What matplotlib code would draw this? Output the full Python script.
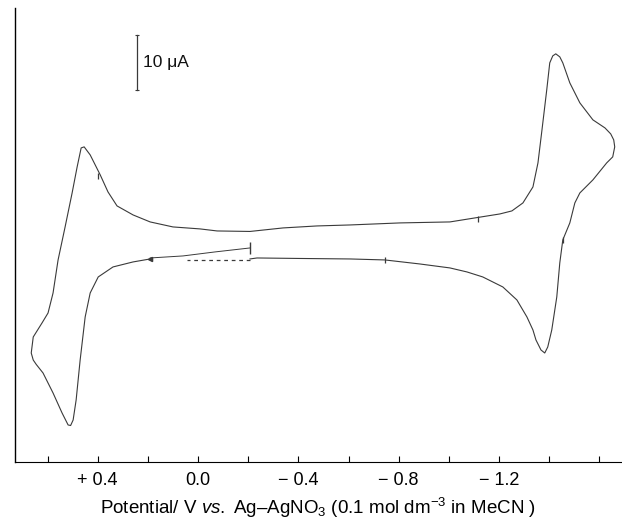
import matplotlib
matplotlib.use("Agg")

import numpy as np
import matplotlib.pyplot as plt

# --- Data (potential / V, current / uA) ---
# closed loop, starting at the lower branch near +0.19 V and running anticlockwise
loop_v = [0.191, 0.259, 0.339, 0.398, 0.430, 0.450, 0.470, 0.486, 0.498, 0.508, 0.518,
          0.542, 0.578, 0.618, 0.645, 0.657, 0.665, 0.657, 0.622, 0.598, 0.578, 0.558,
          0.530, 0.502, 0.482, 0.466, 0.454, 0.430, 0.390, 0.359, 0.323, 0.259,
          0.191, 0.100, -0.008, -0.076, -0.207, -0.339, -0.474, -0.606, -0.805, -1.004,
          -1.104, -1.203, -1.251, -1.295, -1.335, -1.355, -1.371, -1.390, -1.402, -1.414,
          -1.426, -1.442, -1.454, -1.482, -1.522, -1.574, -1.622, -1.645, -1.657, -1.661,
          -1.653, -1.629, -1.574, -1.522, -1.502, -1.482, -1.454, -1.442, -1.430, -1.410,
          -1.394, -1.382, -1.367, -1.347, -1.335, -1.311, -1.271, -1.215, -1.135, -1.072,
          -1.004, -0.884, -0.745, -0.606, -0.406, -0.235, -0.207]
loop_i = [-0.73, -1.27, -2.18, -4.0, -6.91, -11.27, -19.09, -26.36, -30.0, -31.0, -30.9,
          -28.73, -25.09, -21.45, -19.9, -19.1, -17.82, -14.91, -12.36, -10.55, -6.91, -0.91,
          5.09, 11.27, 16.0, 19.45, 19.64, 18.18, 14.55, 11.45, 8.91, 7.27,
          6.0, 5.09, 4.73, 4.36, 4.27, 4.91, 5.27, 5.45, 5.82, 6.0,
          6.73, 7.45, 8.0, 9.45, 12.36, 16.73, 22.73, 30.0, 34.91, 36.18,
          36.55, 36.0, 34.91, 31.27, 27.64, 24.55, 23.09, 22.0, 20.91, 19.64,
          17.82, 16.73, 13.64, 11.27, 9.45, 5.82, 2.73, -1.45, -7.64, -13.64,
          -16.73, -17.82, -17.27, -15.45, -13.64, -11.27, -8.18, -5.82, -4.0, -3.09,
          -2.36, -1.64, -0.91, -0.73, -0.64, -0.55, -0.73]

# start of the scan (thin lead-in) and the dashed closing segment
start_v = [-0.207, -0.068, 0.060, 0.191]
start_i = [1.27, 0.55, -0.18, -0.55]
close_v = [-0.207, -0.088, 0.044]
close_i = [-0.91, -0.91, -0.91]

major_ticks = [0.4, 0.0, -0.4, -0.8, -1.2]
tick_labels = ["+ 0.4", "0.0", "\u2212 0.4", "\u2212 0.8", "\u2212 1.2"]
minor_ticks = [0.6, 0.2, -0.2, -0.6, -1.0, -1.4, -1.6]

# small scan marks on the trace
mark_v = [0.398, -0.745, -1.454, -1.114]
mark_i = [14.4, -0.91, 2.73, 6.6]

SCALE_V = 0.243      # position of the 10 uA bar
SCALE_I = (30.0, 40.0)

# --- Style ---
plt.rcParams["font.family"] = ["Liberation Sans", "DejaVu Sans"]
plt.rcParams["mathtext.fontset"] = "custom"
plt.rcParams["mathtext.rm"] = "Liberation Sans"
plt.rcParams["mathtext.it"] = "Liberation Sans:italic"

LINE = "#3a3a3a"

fig = plt.figure(figsize=(6.22, 5.26), dpi=100)
ax = fig.add_axes([0.024, 0.122, 0.976, 0.863])

ax.plot(loop_v, loop_i, color=LINE, lw=0.8)
ax.plot(start_v, start_i, color=LINE, lw=0.7)
ax.plot(close_v, close_i, color=LINE, lw=0.9, ls=(0, (3, 3)))
ax.plot(mark_v, mark_i, ls="none", marker="|", ms=5, mew=0.9, color=LINE)
ax.plot([start_v[0]], [start_i[0]], ls="none", marker="|", ms=9, mew=1.0, color=LINE)
ax.plot([start_v[-1]], [start_i[-1] - 0.2], ls="none", marker="<", ms=3, color=LINE)

# 10 uA scale bar
ax.plot([SCALE_V, SCALE_V], SCALE_I, color=LINE, lw=0.9)
ax.plot([SCALE_V, SCALE_V], SCALE_I, ls="none", marker="_", ms=3, mew=0.8, color=LINE)
ax.text(SCALE_V - 0.025, np.mean(SCALE_I), "10 \u03bcA", fontsize=12.5,
        ha="left", va="center", color="#111111")

ax.set_xlim(0.73, -1.69)
ax.set_ylim(-37.6, 44.9)

ax.set_xticks(major_ticks)
ax.set_xticklabels(tick_labels, fontsize=13)
ax.set_xticks(minor_ticks, minor=True)
ax.tick_params(axis="x", which="both", direction="in", length=4, width=0.8, pad=7)
ax.set_yticks([])

for s in ["top", "right"]:
    ax.spines[s].set_visible(False)
ax.spines["left"].set_linewidth(1.0)
ax.spines["bottom"].set_linewidth(0.8)

ax.set_xlabel("Potential/ V $\\it{vs.}$ Ag\u2013AgNO$_3$ (0.1 mol dm$^{-3}$ in MeCN )",
              fontsize=13.5, labelpad=5)

plt.savefig("out.png", dpi=100)
plt.close()
